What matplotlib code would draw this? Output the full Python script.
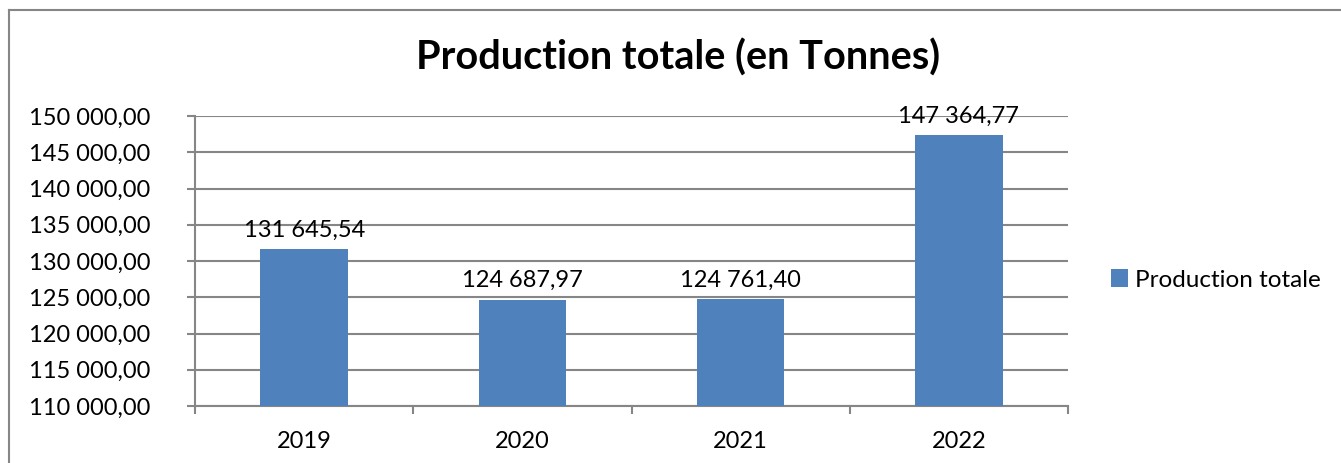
import matplotlib.pyplot as plt
from matplotlib.ticker import FuncFormatter, NullFormatter
from matplotlib.lines import Line2D

# données
annees = ['2019', '2020', '2021', '2022']
production = [131645.54, 124687.97, 124761.40, 147364.77]
titre = 'Production totale (en Tonnes)'
serie = 'Production totale'
y_min, y_max, y_pas = 110000, 150000, 5000

bleu = '#4F81BD'
gris = '#868686'


def fr(v, pos=None):
    # format français : 131 645,54
    return f'{v:,.2f}'.replace(',', ' ').replace('.', ',')


plt.rcParams['font.family'] = ['Lato', 'DejaVu Sans']

fig = plt.figure(figsize=(13.41, 4.63), dpi=100)
ax = fig.add_axes([195 / 1341, 1 - 406 / 463, (1068 - 195) / 1341, (406 - 116) / 463])

x = list(range(len(annees)))
bars = ax.bar(x, production, width=0.4, color=bleu, zorder=3, label=serie)

ax.set_xlim(-0.5, len(annees) - 0.5)
ax.set_ylim(y_min, y_max)
ax.set_yticks(range(y_min, y_max + 1, y_pas))
ax.yaxis.set_major_formatter(FuncFormatter(fr))
ax.grid(axis='y', color=gris, linewidth=1.5, zorder=0)

# graduations x entre les catégories
ax.set_xticks([i - 0.5 for i in range(len(annees) + 1)])
ax.xaxis.set_major_formatter(NullFormatter())
ax.set_xticks(x, minor=True)
ax.set_xticklabels(annees, minor=True)
ax.tick_params(axis='x', which='minor', length=0, labelsize=17, pad=18)
ax.tick_params(axis='x', which='major', length=6, width=1.5, color=gris)
ax.tick_params(axis='y', length=6, width=1.5, color=gris, labelsize=17, pad=26)

for s in ['top', 'right']:
    ax.spines[s].set_visible(False)
for s in ['left', 'bottom']:
    ax.spines[s].set_color(gris)
    ax.spines[s].set_linewidth(1.5)

for b, v in zip(bars, production):
    ax.annotate(fr(v), (b.get_x() + b.get_width() / 2, v), xytext=(0, 6),
                textcoords='offset points', ha='center', va='bottom', fontsize=17, zorder=4)

fig.text(678 / 1341, 1 - 58 / 463, titre, ha='center', va='center',
         fontsize=28.5, fontweight='bold')

fig.legend(handles=[bars], labels=[serie], loc='center left',
           bbox_to_anchor=(1089 / 1341, 1 - 280 / 463), frameon=False,
           fontsize=17.5, handlelength=0.7, handleheight=0.7, handletextpad=0.3)

# cadre du graphique (bords gauche et haut visibles)
fig.add_artist(Line2D([9 / 1341, 9 / 1341], [0, 1 - 10 / 463], transform=fig.transFigure,
                      color=gris, linewidth=1.5))
fig.add_artist(Line2D([9 / 1341, 1], [1 - 10 / 463, 1 - 10 / 463], transform=fig.transFigure,
                      color=gris, linewidth=1.5))

plt.savefig('out.png', dpi=100)
